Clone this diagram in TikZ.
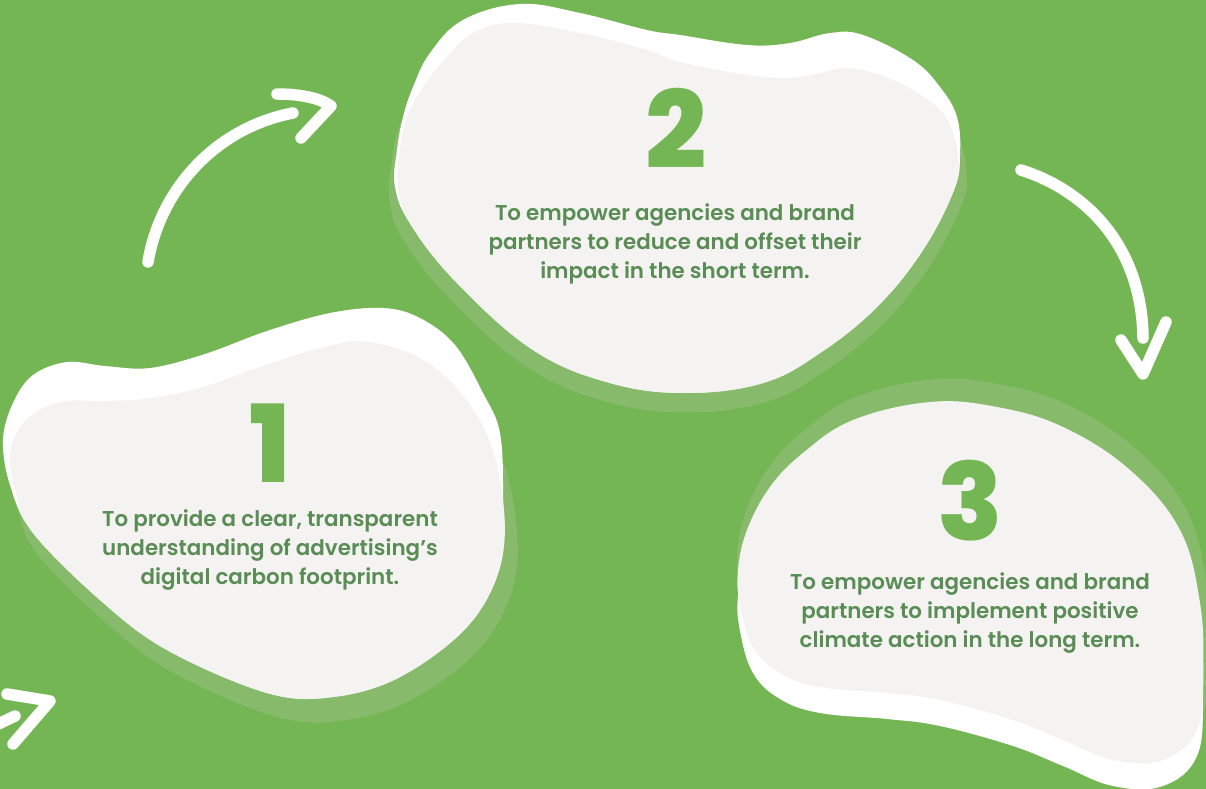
\documentclass[tikz,border=0pt]{standalone}
\usepackage{fontspec}
\setmainfont{Poppins}
\newfontfamily\numfont{Poppins ExtraBold}
\newfontfamily\txtfont{Poppins SemiBold}
\definecolor{leaf}{HTML}{74B653}
\definecolor{band}{HTML}{88BA6C}
\definecolor{paper}{HTML}{F4F3F1}
\definecolor{ink}{HTML}{5A8C55}
\tikzset{
  % faces of the three blobs
  blobone/.style={insert path={plot[smooth cycle, tension=0.6] coordinates {
    (10,455) (20,427) (40,410) (67,401) (105,401) (150,398) (200,388)
    (260,367) (320,348) (370,342) (433,366) (483,426) (503,500) (500,567)
    (467,627) (400,677) (333,697) (267,693) (167,650) (100,600) (33,533)
    (15,490)}}},
  blobtwo/.style={insert path={plot[smooth cycle, tension=0.65] coordinates {
    (398,187) (400,150) (407,117) (423,87) (447,57) (473,33) (513,23)
    (580,33) (647,50) (680,62) (747,75) (790,78) (820,73) (847,68)
    (880,75) (913,90) (940,110) (953,133) (958,160) (954,190) (923,250)
    (877,307) (820,353) (763,383) (686,393) (610,383) (533,350)
    (457,283) (411,225)}}},
  blobthree/.style={insert path={plot[smooth cycle, tension=0.65] coordinates {
    (738,570) (747,530) (770,487) (803,453) (853,420) (930,402) (997,407)
    (1063,427) (1130,470) (1180,530) (1200,603) (1203,670) (1197,730)
    (1163,760) (1113,760) (1063,740) (1013,720) (940,700) (887,693)
    (820,687) (780,673) (753,647) (740,605)}}},
  % white rims
  rimone/.style={insert path={plot[smooth cycle, tension=0.6] coordinates {
    (3,440) (13,403) (33,375) (67,362) (105,366) (150,368) (205,354)
    (267,331) (330,313) (383,308) (420,318) (455,345) (483,393)
    (500,433) (503,500) (500,567) (467,627) (400,677) (333,697) (267,693)
    (167,650) (100,600) (33,533) (10,485)}}},
  rimtwo/.style={insert path={plot[smooth cycle, tension=0.65] coordinates {
    (395,187) (397,150) (403,117) (413,87) (430,53) (463,20) (520,4)
    (580,13) (647,30) (680,35) (747,45) (790,43) (830,33) (863,35)
    (913,60) (940,87) (957,117) (960,155) (954,190) (923,250) (877,307)
    (820,353) (763,383) (686,393) (610,383) (533,350) (457,283)
    (411,225)}}},
  numstyle/.style={text=leaf, font=\numfont\fontsize{108}{108}\selectfont, inner sep=0pt},
  txtstyle/.style={text=ink, align=center, inner sep=0pt,
    font=\txtfont\fontsize{21.5}{28.8}\selectfont},
  brush/.style={draw=white, line width=11.5bp, line cap=round, line join=round}
}
\begin{document}
\begin{tikzpicture}[x=1bp, y=-1bp]
  \fill[leaf] (0,0) rectangle (1206,789);
  \useasboundingbox (0,0) rectangle (1206,789);

  % step 2 blob: light band below, white rim above, then the face
  \begin{scope}[shift={(0,14)}, scale around={1.03:(680,210)}]
    \fill[band, blobtwo];
  \end{scope}
  \fill[white, rimtwo];
  \fill[paper, blobtwo];

  % step 1 blob
  \begin{scope}[shift={(8,20)}, scale around={1.02:(260,520)}]
    \fill[band, blobone];
  \end{scope}
  \fill[white, rimone];
  \fill[paper, blobone];

  % step 3 blob: band above, white rim below
  \begin{scope}[shift={(3,-20)}, scale around={1.015:(970,580)}]
    \fill[band, blobthree];
  \end{scope}
  \begin{scope}[shift={(0,26)}]
    \fill[white, blobthree];
  \end{scope}
  \fill[paper, blobthree];

  % numbers and captions
  \node[numstyle, anchor=base] (n1) at (270,482) {1};
  \node[numstyle, anchor=base] (n2) at (676,168) {2};
  \node[numstyle, anchor=base] (n3) at (970,540) {3};

  \node[txtstyle] (t1) at (270,550) {To provide a clear, transparent\\understanding of advertising’s\\digital carbon footprint.};
  \node[txtstyle] (t2) at (675,244) {To empower agencies and brand\\partners to reduce and offset their\\impact in the short term.};
  \node[txtstyle] (t3) at (970,613) {To empower agencies and brand\\partners to implement positive\\climate action in the long term.};

  % hand-drawn arrows
  \coordinate (a1s) at (148,262);
  \coordinate (a1e) at (293,113);
  \coordinate (a1h1) at (277,94);
  \coordinate (a1h2) at (331,106);
  \coordinate (a1h3) at (301,138);
  \draw[brush] (a1s) .. controls (160,190) and (215,128) .. (a1e);
  \draw[brush] (a1h1) .. controls (300,94) and (320,98) .. (a1h2) -- (a1h3);

  \coordinate (a2s) at (1021,170);
  \coordinate (a2e) at (1143,338);
  \coordinate (a2h1) at (1121,340);
  \coordinate (a2h2) at (1143,374);
  \coordinate (a2h3) at (1166,322);
  \draw[brush] (a2s) .. controls (1090,192) and (1142,250) .. (a2e);
  \draw[brush] (a2h1) -- (a2h2) -- (a2h3);

  \coordinate (a3s) at (-10,728);
  \coordinate (a3e) at (15,716);
  \coordinate (a3h1) at (7,694);
  \coordinate (a3h2) at (50,701);
  \coordinate (a3h3) at (13,744);
  \draw[brush] (a3s) -- (a3e);
  \draw[brush] (a3h1) -- (a3h2) -- (a3h3);
\end{tikzpicture}
\end{document}
